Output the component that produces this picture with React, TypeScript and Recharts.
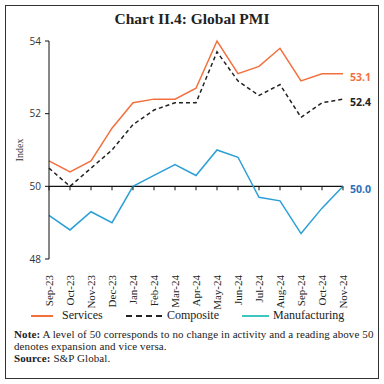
import React from 'react';
import { LineChart, Line, XAxis, YAxis, LabelList } from 'recharts';

const months = ['Sep-23','Oct-23','Nov-23','Dec-23','Jan-24','Feb-24','Mar-24','Apr-24','May-24','Jun-24','Jul-24','Aug-24','Sep-24','Oct-24','Nov-24'];
const services = [50.7,50.4,50.7,51.6,52.3,52.4,52.4,52.7,54.0,53.1,53.3,53.8,52.9,53.1,53.1];
const composite = [50.5,50.0,50.5,51.0,51.7,52.1,52.3,52.3,53.7,52.9,52.5,52.8,51.9,52.3,52.4];
const manufacturing = [49.2,48.8,49.3,49.0,50.0,50.3,50.6,50.3,51.0,50.8,49.7,49.6,48.7,49.4,50.0];
const axisLevel = months.map(() => 50);
const yTicks = [48, 50, 52, 54];

const data = months.map((m, i) => ({
  month: m,
  services: services[i],
  composite: composite[i],
  manufacturing: manufacturing[i],
  axis: axisLevel[i],
}));

const ORANGE = '#f3703d';
const BLUE = '#2b9fd6';
const LABEL_BLUE = '#2d6fba';
const TEAL = '#3ec6c1';
const SERIF = '"Liberation Serif", "DejaVu Serif", serif';
const SANS = '"Open Sans", "Liberation Sans", sans-serif';

const lastLabel = (color: string) => (props: any) => {
  const { x, y, value, index } = props;
  if (index !== months.length - 1) return null;
  return (
    <text x={x + 7} y={y + 7} fill={color} fontFamily={SANS} fontSize={10.5} fontWeight={700}>
      {Number(value).toFixed(1)}
    </text>
  );
};

const XTick = (props: any) => {
  const { x, y, payload } = props;
  return (
    <text
      transform={`translate(${x + 4},${y + 8}) rotate(-90)`}
      textAnchor="end"
      fontFamily={SERIF}
      fontSize={11}
      fill="#222"
    >
      {payload.value}
    </text>
  );
};

const AxisTickDot = (props: any) => {
  const { cx, cy } = props;
  return <line x1={cx} y1={cy} x2={cx} y2={cy + 4} stroke="#111" strokeWidth={1} />;
};

export default function App() {
  return (
    <div style={{ position: 'absolute', left: 0, top: 0, width: 384, height: 384, background: '#fff' }}>
      <div style={{ position: 'absolute', left: 5, top: 5, width: 374, height: 374, border: '1px solid #333', boxSizing: 'border-box' }} />
      <div style={{ position: 'absolute', left: 0, top: 10, width: 384, textAlign: 'center', fontFamily: SERIF, fontWeight: 700, fontSize: 15.5, color: '#222' }}>
        Chart II.4: Global PMI
      </div>
      <div style={{ position: 'absolute', left: 0, top: 0 }}>
        <LineChart width={384} height={384} data={data} margin={{ top: 41, right: 41, bottom: 0, left: 0 }}>
          <XAxis
            dataKey="month"
            axisLine={false}
            tickLine={false}
            tick={<XTick />}
            interval={0}
            height={125}
          />
          <YAxis
            domain={[48, 54]}
            ticks={yTicks}
            width={49}
            axisLine={{ stroke: '#111', strokeWidth: 1 }}
            tickLine={{ stroke: '#111' }}
            tickSize={4}
            tickMargin={4}
            tick={{ fontFamily: SANS, fontSize: 10, fill: '#333' }}
            label={{ value: 'Index', angle: -90, position: 'insideLeft', offset: 19, style: { textAnchor: 'middle', fontFamily: SERIF, fontSize: 10, fill: '#333' } }}
          />
          <Line dataKey="axis" stroke="#111" strokeWidth={1.2} dot={<AxisTickDot />} activeDot={false} isAnimationActive={false} />
          <Line dataKey="manufacturing" stroke={BLUE} strokeWidth={1.5} dot={false} isAnimationActive={false}>
            <LabelList dataKey="manufacturing" content={lastLabel(LABEL_BLUE)} />
          </Line>
          <Line dataKey="composite" stroke="#222" strokeWidth={1.5} strokeDasharray="4 3" dot={false} isAnimationActive={false}>
            <LabelList dataKey="composite" content={lastLabel('#222')} />
          </Line>
          <Line dataKey="services" stroke={ORANGE} strokeWidth={1.5} dot={false} isAnimationActive={false}>
            <LabelList dataKey="services" content={lastLabel(ORANGE)} />
          </Line>
        </LineChart>
      </div>
      <div style={{ position: 'absolute', left: 0, top: 308, width: 384, height: 16, fontFamily: SERIF, fontSize: 12, lineHeight: '14px', color: '#222' }}>
        <span style={{ position: 'absolute', left: 31, top: 7, width: 22, borderTop: `2px solid ${ORANGE}` }} />
        <span style={{ position: 'absolute', left: 62, top: 0 }}>Services</span>
        <span style={{ position: 'absolute', left: 126, top: 7, width: 36, borderTop: '2px dashed #222' }} />
        <span style={{ position: 'absolute', left: 167, top: 0 }}>Composite</span>
        <span style={{ position: 'absolute', left: 242, top: 7, width: 27, borderTop: `2px solid ${TEAL}` }} />
        <span style={{ position: 'absolute', left: 273, top: 0 }}>Manufacturing</span>
      </div>
      <div style={{ position: 'absolute', left: 14, top: 328, width: 362, fontFamily: SERIF, fontSize: 11, letterSpacing: 0.1, lineHeight: '12px', color: '#222', whiteSpace: 'nowrap' }}>
        <div><b>Note:</b> A level of 50 corresponds to no change in activity and a reading above 50</div>
        <div>denotes expansion and vice versa.</div>
        <div><b>Source:</b> S&amp;P Global.</div>
      </div>
    </div>
  );
}
